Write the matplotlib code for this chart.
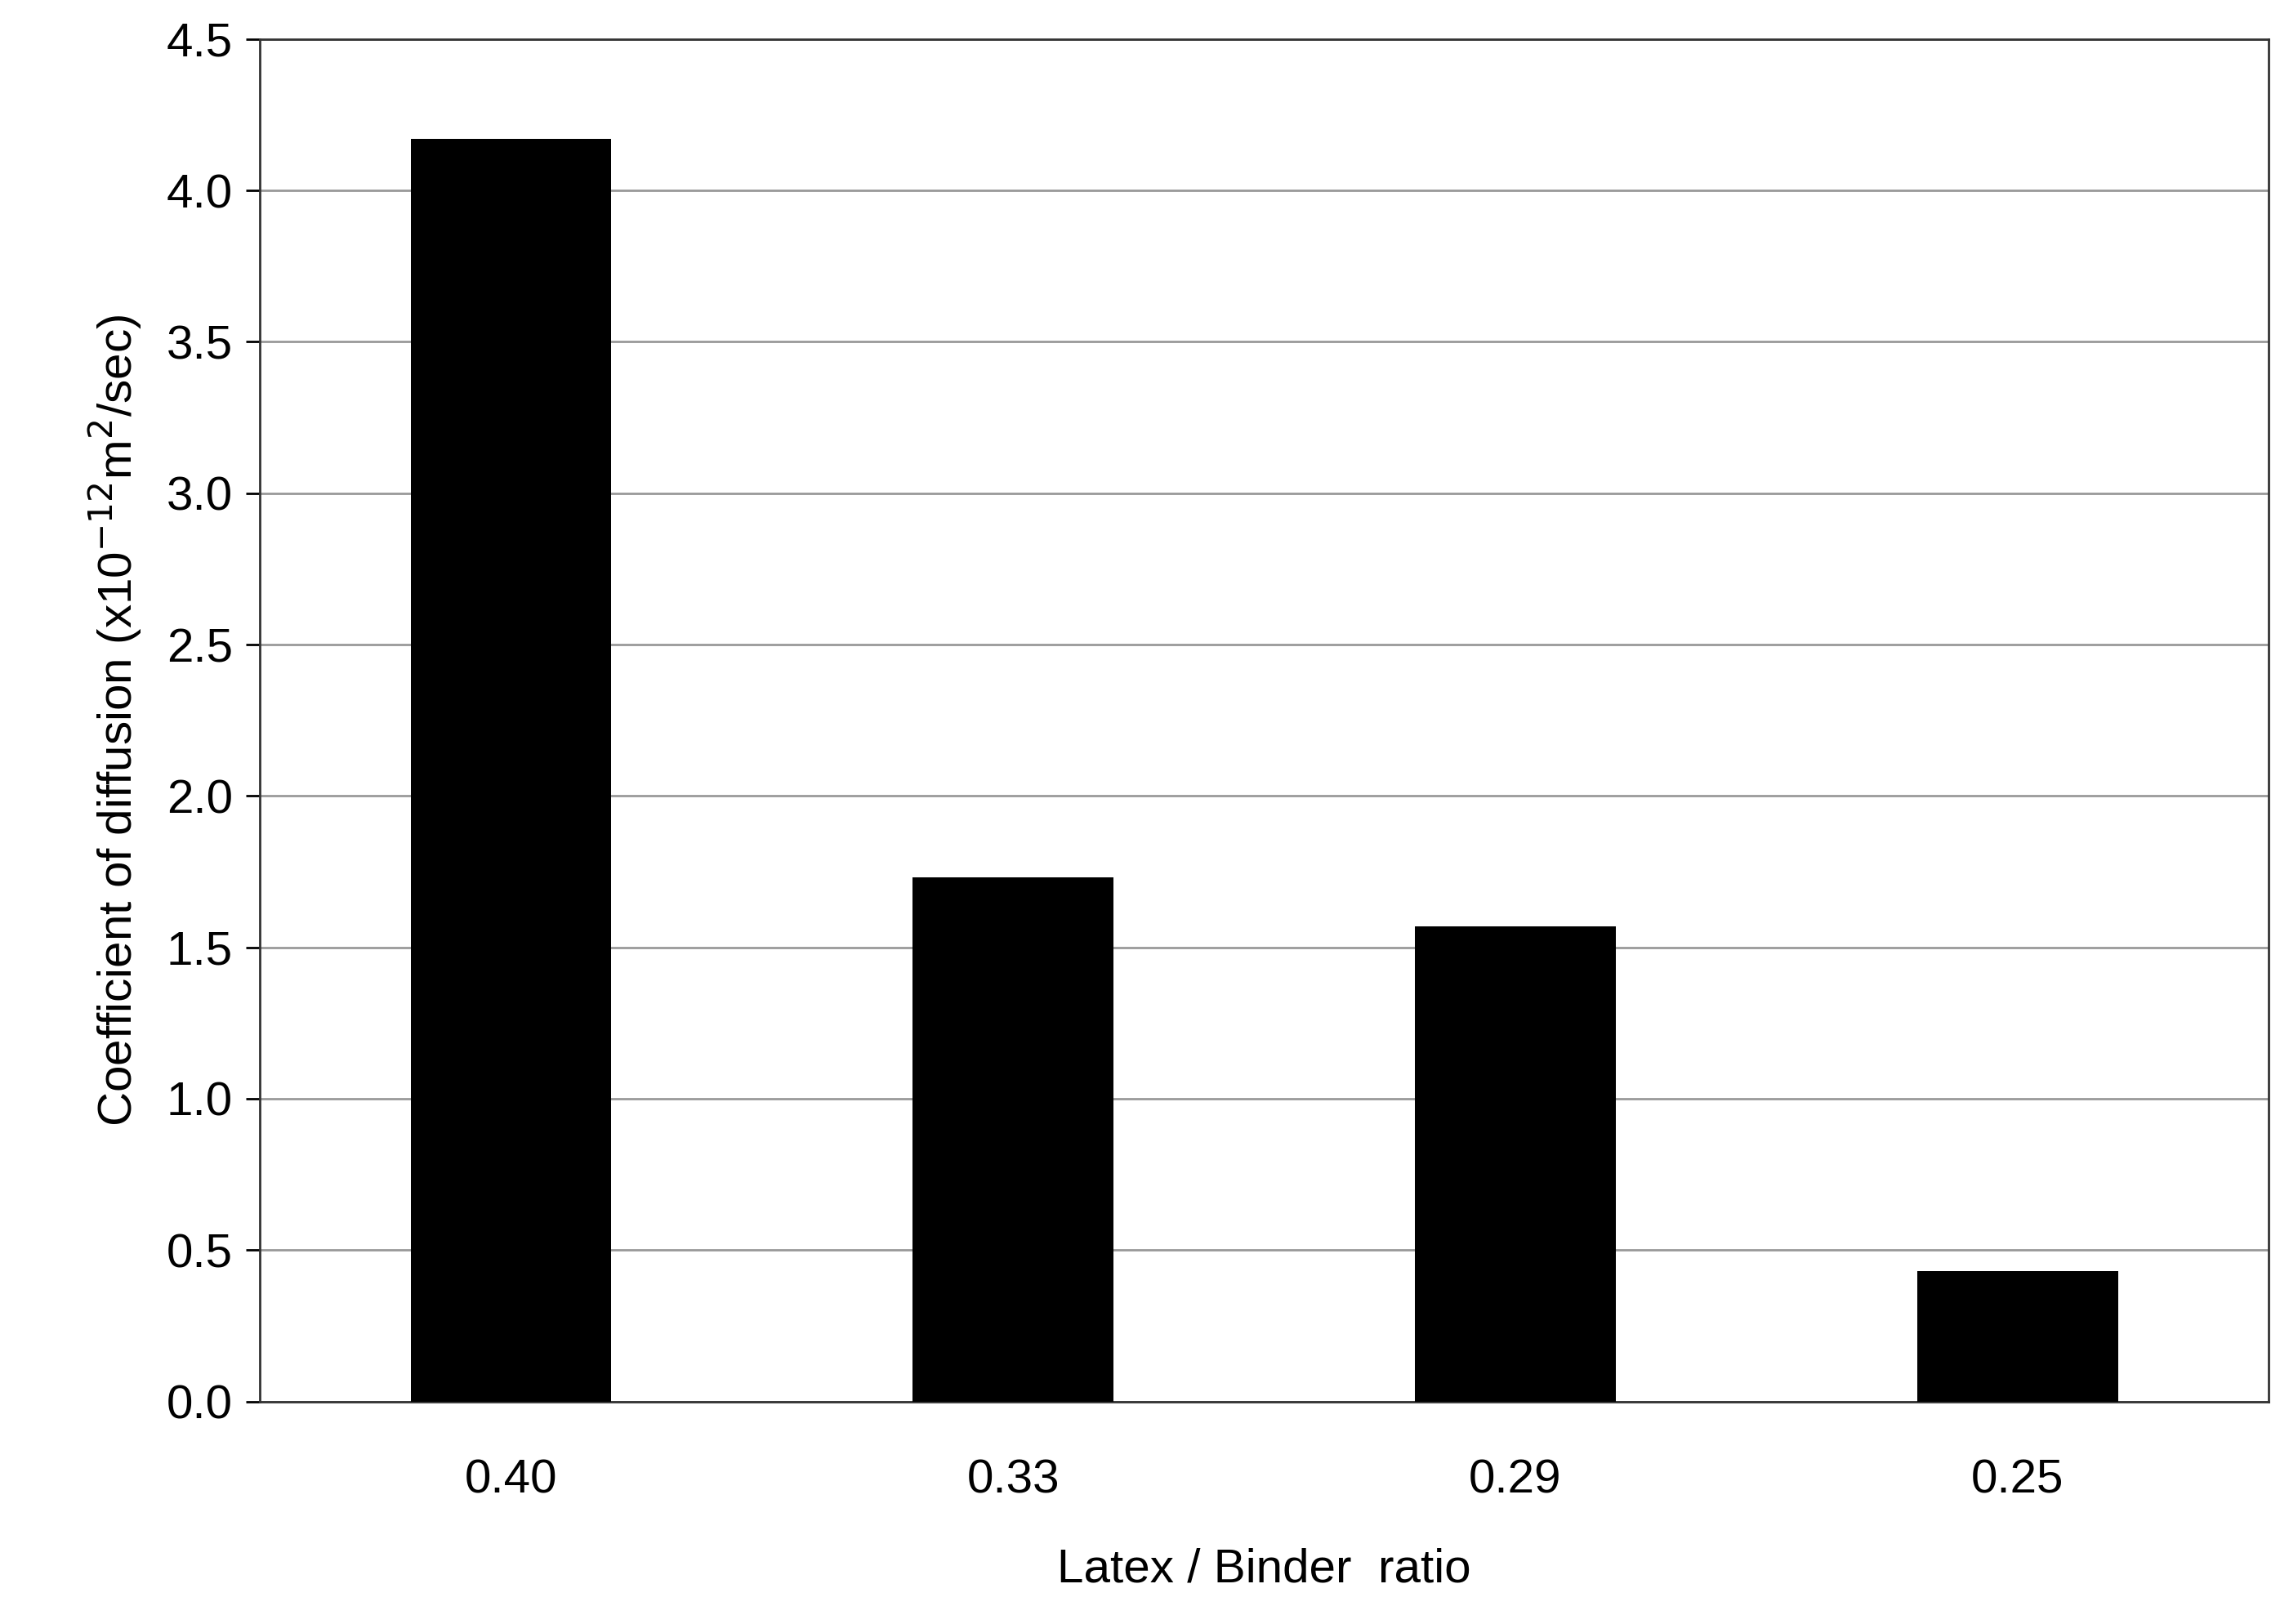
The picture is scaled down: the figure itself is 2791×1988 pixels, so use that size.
import matplotlib
matplotlib.use("Agg")
import matplotlib.pyplot as plt

categories = ["0.40", "0.33", "0.29", "0.25"]
values = [4.17, 1.73, 1.57, 0.43]
yticks = [0.0, 0.5, 1.0, 1.5, 2.0, 2.5, 3.0, 3.5, 4.0, 4.5]

plt.rcParams['font.family'] = ['Liberation Sans', 'DejaVu Sans']
fig = plt.figure(figsize=(27.91, 19.88), dpi=100)
ax = fig.add_axes([0.114, 0.137, 0.881, 0.839])
x = range(len(categories))
ax.bar(x, values, width=0.4, color='black', zorder=3)
ax.set_xlim(-0.5, len(categories) - 0.5)
ax.set_ylim(0, 4.5)
ax.set_yticks(yticks)
ax.set_yticklabels([f"{v:.1f}" for v in yticks], fontsize=42)
ax.set_xticks(list(x))
ax.set_xticklabels(categories, fontsize=42)
ax.yaxis.grid(True, color='#999999', linewidth=2, zorder=0)
ax.tick_params(axis='x', length=0, pad=50)
ax.tick_params(axis='y', length=12, width=2, pad=12)
for s in ax.spines.values():
    s.set_linewidth(2)
    s.set_color('#333333')
ax.set_xlabel("Latex / Binder  ratio", fontsize=42, labelpad=40)
ax.set_ylabel(r"Coefficient of diffusion (x10$^{-12}$m$^{2}$/sec)", fontsize=42, labelpad=20)
fig.savefig("out.png", dpi=100)
